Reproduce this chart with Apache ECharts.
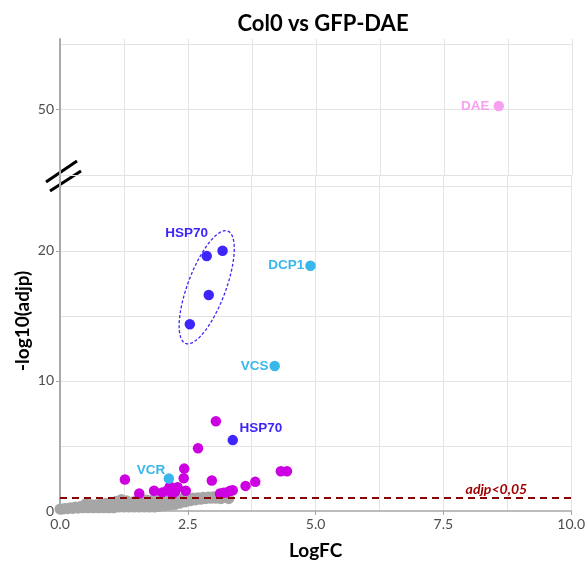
<!DOCTYPE html>
<html>
<head>
<meta charset="utf-8">
<script src="https://cdn.jsdelivr.net/npm/echarts@6/dist/echarts.min.js"></script>
<style>html,body{margin:0;padding:0;background:#fff}#c{width:588px;height:565px}</style>
</head>
<body>
<div id="c"></div>
<script>
// ---- data ----
const xTickLabels = [0, 2.5, 5, 7.5, 10];
const yTickLabelsLow = [0, 10, 20];
const yTickLabelsHigh = [50];
const threshold = 1.0;

const greyTopRow = [
 [0.0,0.15],[0.1,0.2],[0.2,0.25],[0.3,0.3],[0.4,0.35],[0.5,0.55],[0.6,0.5],[0.7,0.48],[0.8,0.55],[0.9,0.6],
 [1.0,0.65],[1.1,0.75],[1.2,0.88],[1.3,0.78],[1.4,0.7],[1.5,0.8],[1.6,0.92],[1.7,0.85],[1.8,0.8],[1.9,0.9],
 [2.0,0.95],[2.1,0.98],[2.2,1.02],[2.3,0.98],[2.4,0.95],[2.5,0.98],[2.6,1.0],[2.7,1.02],[2.8,1.05],[2.9,1.08],
 [3.0,1.1],[3.1,1.08],[3.2,1.04],[3.3,0.95]
];
const greyBottomRow = [
 [0.05,0.15],[0.15,0.18],[0.25,0.2],[0.35,0.22],[0.45,0.25],[0.55,0.25],[0.65,0.25],[0.75,0.25],[0.85,0.25],
 [0.95,0.25],[1.05,0.25],[1.15,0.3],[1.25,0.3],[1.35,0.3],[1.45,0.3],[1.55,0.3],[1.65,0.3],[1.75,0.3],
 [1.85,0.3],[1.95,0.35],[2.05,0.4],[2.15,0.45],[2.25,0.5],[2.35,0.6],[2.45,0.7],[2.55,0.78],[2.65,0.85],
 [2.75,0.9],[2.85,0.95],[2.95,0.98],[3.05,0.98],[3.15,0.95]
];
const greyMidRow = [
 [1.3,0.52],[1.5,0.55],[1.6,0.6],[1.7,0.56],[1.9,0.6],[2.0,0.65],[2.1,0.68],[2.2,0.72],[2.3,0.76],[2.4,0.8]
];
const magentaPoints = [
 [3.05,6.9],[2.70,4.83],[2.43,3.26],[2.42,2.52],[1.27,2.42],[2.97,2.34],[2.46,1.55],[1.55,1.35],
 [1.84,1.55],[2.00,1.43],[2.15,1.88],[2.30,1.83],[2.20,1.30],[2.10,1.60],[2.25,1.50],[2.18,1.65],
 [3.63,1.93],[3.82,2.24],[4.32,3.05],[4.44,3.05],[3.13,1.35],[3.20,1.40],[3.26,1.43],[3.33,1.55],[3.38,1.60]
];
const bluePoints = [[2.87,19.6],[3.18,20.0],[2.91,16.6],[2.54,14.35],[3.38,5.45]];
const blueNames  = ['', 'HSP70', '', '', 'HSP70'];
const lightBluePoints = [[4.90,18.85],[4.20,11.15],[2.13,2.50]];
const lightBlueNames  = ['DCP1','VCS','VCR'];
const pinkPoints = [[8.57,50.28]];
const pinkNames  = ['DAE'];
const ellipseCenter = [2.87, 17.2];

// ---- chart ----
const tickFont = {fontFamily:'Lato', fontSize:14, color:'#4d4d4d'};
const geneFont = {fontFamily:'Liberation Sans', fontWeight:'bold', fontSize:13.5};
const gridLine = {show:true, lineStyle:{color:'#e3e3e3', width:1}};
const axisLineStyle = {show:true, lineStyle:{color:'#a6a6a6', width:1.5}};

const chart = echarts.init(document.getElementById('c'), null, {renderer:'canvas'});

function xAxisMain(gridIndex, showLabels){
  return {
    type:'value', gridIndex, min:0, max:10, interval:2.5,
    axisLine: showLabels ? axisLineStyle : {show:false},
    axisTick: {show:showLabels, length:4, lineStyle:{color:'#a6a6a6'}, customValues:xTickLabels},
    axisLabel: {show:showLabels, ...tickFont, margin:6, customValues:xTickLabels,
      formatter: v => v.toFixed(1)},
    splitLine: {show:false},
    name: showLabels ? 'LogFC' : '',
    nameLocation:'middle', nameGap:30,
    nameTextStyle:{fontFamily:'Lato', fontWeight:'bold', fontSize:19, color:'#000'}
  };
}
function xAxisGrid(gridIndex){
  return {type:'value', gridIndex, position:'top', min:0, max:10, interval:1.25,
    axisLine:{show:false}, axisTick:{show:false}, axisLabel:{show:false}, splitLine:gridLine};
}

const labelStyle = (color) => ({...geneFont, color});

const option = {
  animation:false,
  title:{text:'Col0 vs GFP-DAE', left:318, top:8, textAlign:'center',
    textStyle:{fontFamily:'Lato', fontWeight:'bold', fontSize:22, color:'#000'}},
  grid:[
    {left:60, right:16, top:39, height:136},
    {left:60, right:16, top:176, bottom:53}
  ],
  xAxis:[ xAxisMain(0,false), xAxisMain(1,true), xAxisGrid(0), xAxisGrid(1) ],
  yAxis:[
    {type:'value', gridIndex:0, min:45, max:55.4, interval:5,
      axisLine:axisLineStyle,
      axisTick:{show:true, length:4, lineStyle:{color:'#a6a6a6'}, customValues:yTickLabelsHigh},
      axisLabel:{...tickFont, margin:6, customValues:yTickLabelsHigh},
      splitLine:{show:false}},
    {type:'value', gridIndex:1, min:0, max:25.75, interval:5,
      axisLine:axisLineStyle,
      axisTick:{show:true, length:4, lineStyle:{color:'#a6a6a6'}, customValues:yTickLabelsLow},
      axisLabel:{...tickFont, margin:6, customValues:yTickLabelsLow},
      splitLine:{show:false}},
    {type:'value', gridIndex:0, position:'right', min:45, max:55.4, interval:5,
      axisLine:axisLineStyle, axisTick:{show:false}, axisLabel:{show:false},
      splitLine:{...gridLine, showMinLine:true, showMaxLine:false}},
    {type:'value', gridIndex:1, position:'right', min:0, max:25.75, interval:5,
      axisLine:axisLineStyle, axisTick:{show:false}, axisLabel:{show:false},
      splitLine:{...gridLine, showMinLine:false, showMaxLine:false}}
  ],
  graphic:[
    {type:'text', x:13, y:371, rotation:Math.PI/2, style:{text:'-log10(adjp)',
      font:'bold 19px Lato', fill:'#000'}},
    {type:'line', shape:{x1:46,y1:182,x2:77,y2:161}, style:{stroke:'#000', lineWidth:3}},
    {type:'line', shape:{x1:50,y1:191,x2:81,y2:171}, style:{stroke:'#000', lineWidth:3}}
  ],
  series:[
    {type:'scatter', xAxisIndex:1, yAxisIndex:1, data:greyBottomRow.concat(greyMidRow, greyTopRow), symbolSize:11,
      itemStyle:{color:'#a6a6a6', opacity:1}, silent:true,
      markLine:{silent:true, symbol:'none', data:[{yAxis:threshold}],
        lineStyle:{color:'#8b0000', type:[7,5], width:2},
        label:{show:true, position:'insideEndTop', formatter:'adjp<0,05',
          fontFamily:'Lato', fontStyle:'italic', fontWeight:'bold', fontSize:14, color:'#a00000',
          padding:[0,42,0,0], distance:2}}},
    {type:'scatter', xAxisIndex:1, yAxisIndex:1, data:magentaPoints, symbolSize:10.5,
      itemStyle:{color:'#cc00e0', opacity:1}, silent:true},
    {type:'custom', xAxisIndex:1, yAxisIndex:1, data:[ellipseCenter], silent:true, z:1,
      renderItem:function(params, api){
        const c = api.coord([api.value(0), api.value(1)]);
        const a = 60, b = 19, phi = Math.atan2(-56, 21);
        const pts = [];
        for (let i = 0; i < 90; i++) {
          const t = i / 90 * Math.PI * 2;
          pts.push([c[0] + a*Math.cos(t)*Math.cos(phi) - b*Math.sin(t)*Math.sin(phi),
                    c[1] + a*Math.cos(t)*Math.sin(phi) + b*Math.sin(t)*Math.cos(phi)]);
        }
        return {type:'polygon', shape:{points:pts},
          style:{fill:null, stroke:'#3e25fa', lineWidth:1.3, lineDash:[3,2]}};
      }},
    {type:'scatter', xAxisIndex:1, yAxisIndex:1, symbolSize:10.5,
      itemStyle:{color:'#3e25fa', opacity:1}, silent:true,
      data: bluePoints.map((p,i) => ({value:p, name:blueNames[i],
        label: blueNames[i] ? {show:true, formatter:'{b}', position:'inside',
          offset: i === 1 ? [-36,-18] : [28,-12], ...labelStyle('#3e25fa')} : {show:false}}))},
    {type:'scatter', xAxisIndex:1, yAxisIndex:1, symbolSize:10.5,
      itemStyle:{color:'#3ab7ea', opacity:1}, silent:true,
      data: lightBluePoints.map((p,i) => ({value:p, name:lightBlueNames[i],
        label: i < 2 ? {show:true, formatter:'{b}', position:'left', distance:1, ...labelStyle('#3ab7ea')}
                     : {show:true, formatter:'{b}', position:'inside', offset:[-18,-8], ...labelStyle('#3ab7ea')}}))},
    {type:'scatter', xAxisIndex:0, yAxisIndex:0, symbolSize:10.5,
      itemStyle:{color:'#f7a0f2', opacity:1}, silent:true,
      data: pinkPoints.map((p,i) => ({value:p, name:pinkNames[i],
        label:{show:true, formatter:'{b}', position:'left', distance:4, ...labelStyle('#f7a0f2')}}))}
  ]
};
chart.setOption(option);
</script>
</body>
</html>
